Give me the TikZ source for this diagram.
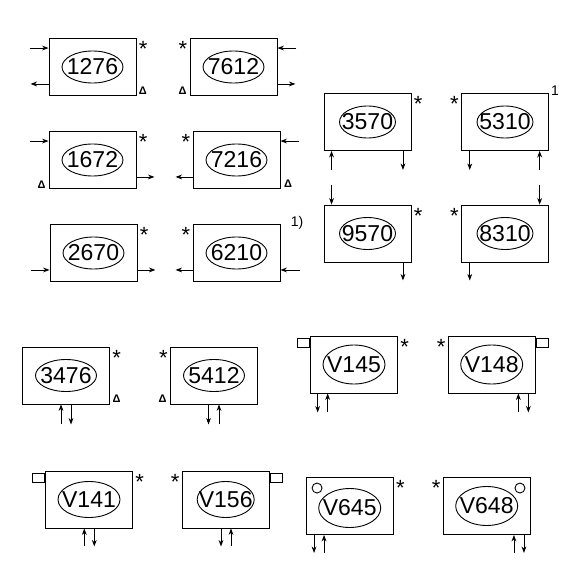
\documentclass[tikz,border=0pt]{standalone}
\usepackage{fontspec}
\setmainfont{Liberation Sans}
\usepackage{tikz}
\usetikzlibrary{arrows.meta,shapes.geometric,positioning}
\tikzstyle{unit} = [rectangle, draw, line width=0.9pt, minimum width=87pt, minimum height=57pt, inner sep=0pt]
\tikzstyle{tag} = [ellipse, draw, line width=0.9pt, minimum width=61pt, minimum height=32pt, inner sep=0pt, font=\fontsize{23}{23}\selectfont]
\tikzstyle{tagv} = [tag, minimum width=62pt, minimum height=39pt]
\tikzstyle{arrow} = [line width=0.8pt, ->, >={Stealth[length=6.5pt,width=4.8pt]}]
\tikzstyle{starr} = [anchor=north west, inner sep=0pt, xshift=2.2pt, yshift=-3.3pt, font=\fontsize{22}{22}\selectfont]
\tikzstyle{starl} = [anchor=north east, inner sep=0pt, xshift=-2.2pt, yshift=-3.3pt, font=\fontsize{22}{22}\selectfont]
\tikzstyle{deltalbl} = [inner sep=0pt, font=\fontsize{11}{11}\selectfont\bfseries]
\tikzstyle{note} = [inner sep=0pt, font=\fontsize{14}{14}\selectfont]
\tikzstyle{stub} = [rectangle, draw, line width=0.9pt, minimum width=12.5pt, minimum height=8.7pt, inner sep=0pt]
\tikzstyle{knob} = [circle, draw, line width=0.9pt, minimum size=10pt, inner sep=0pt]
\newcommand{\tagno}[1]{\makebox[0pt]{#1}}

\begin{document}
\begin{tikzpicture}[x=1pt, y=-1pt]
\useasboundingbox (0,0) rectangle (571,583);

% Row 1
\node[unit] (b1276) at (92.5,67) {};
\node[tag] (e1276) at (b1276) {\tagno{1276}};
\node[starr] (s1276) at (b1276.north east) {*};
\node[deltalbl] (d1276) at ([xshift=6.5pt,yshift=5.3pt]b1276.south east) {Δ};
\coordinate (ia1276) at ([xshift=-19pt,yshift=-10pt]b1276.north west);
\coordinate (oa1276) at ([xshift=-18pt,yshift=12pt]b1276.south west);
\draw[arrow] (ia1276) -- (ia1276 -| b1276.west);
\draw[arrow] (oa1276 -| b1276.west) -- (oa1276);

\node[unit] (b7612) at (233.5,67) {};
\node[tag] (e7612) at (b7612) {\tagno{7612}};
\node[starl] (s7612) at (b7612.north west) {*};
\node[deltalbl] (d7612) at ([xshift=-7pt,yshift=5.3pt]b7612.south west) {Δ};
\coordinate (ia7612) at ([xshift=19pt,yshift=-10pt]b7612.north east);
\coordinate (oa7612) at ([xshift=18pt,yshift=12pt]b7612.south east);
\draw[arrow] (ia7612) -- (ia7612 -| b7612.east);
\draw[arrow] (oa7612 -| b7612.east) -- (oa7612);

% Row 2
\node[unit] (b1672) at (92.5,160) {};
\node[tag] (e1672) at (b1672) {\tagno{1672}};
\node[starr] (s1672) at (b1672.north east) {*};
\node[deltalbl] (d1672) at ([xshift=-7pt,yshift=4.5pt]b1672.south west) {Δ};
\coordinate (ia1672) at ([xshift=-19pt,yshift=-10pt]b1672.north west);
\coordinate (oa1672) at ([xshift=18pt,yshift=12pt]b1672.south east);
\draw[arrow] (ia1672) -- (ia1672 -| b1672.west);
\draw[arrow] (oa1672 -| b1672.east) -- (oa1672);

\node[unit] (b7216) at (236.5,160) {};
\node[tag] (e7216) at (b7216) {\tagno{7216}};
\node[starl] (s7216) at (b7216.north west) {*};
\node[deltalbl] (d7216) at ([xshift=7.5pt,yshift=5.5pt]b7216.south east) {Δ};
\coordinate (ia7216) at ([xshift=19pt,yshift=-10pt]b7216.north east);
\coordinate (oa7216) at ([xshift=-17pt,yshift=12pt]b7216.south west);
\draw[arrow] (ia7216) -- (ia7216 -| b7216.east);
\draw[arrow] (oa7216 -| b7216.west) -- (oa7216);

% Row 3
\node[unit] (b2670) at (93.5,253) {};
\node[tag] (e2670) at (b2670) {\tagno{2670}};
\node[starr] (s2670) at (b2670.north east) {*};
\coordinate (ia2670) at ([xshift=-19pt,yshift=12pt]b2670.south west);
\coordinate (oa2670) at ([xshift=18pt,yshift=12pt]b2670.south east);
\draw[arrow] (ia2670) -- (ia2670 -| b2670.west);
\draw[arrow] (oa2670 -| b2670.east) -- (oa2670);

\node[unit] (b6210) at (236.5,253) {};
\node[tag] (e6210) at (b6210) {\tagno{6210}};
\node[starl] (s6210) at (b6210.north west) {*};
\node[note] (n6210) at ([xshift=16.7pt,yshift=1.3pt]b6210.north east) {1)};
\coordinate (oa6210) at ([xshift=-17pt,yshift=12pt]b6210.south west);
\coordinate (ia6210) at ([xshift=20pt,yshift=12pt]b6210.south east);
\draw[arrow] (oa6210 -| b6210.west) -- (oa6210);
\draw[arrow] (ia6210) -- (ia6210 -| b6210.east);

% Right block
\node[unit] (b3570) at (367.5,122) {};
\node[tag, minimum width=56pt] (e3570) at (b3570) {\tagno{3570}};
\node[starr] (s3570) at (b3570.north east) {*};
\coordinate (ia3570) at ([xshift=8pt,yshift=-19pt]b3570.south west);
\coordinate (oa3570) at ([xshift=-8.5pt,yshift=-19pt]b3570.south east);
\draw[arrow] (ia3570) -- (ia3570 |- b3570.south);
\draw[arrow] (oa3570 |- b3570.south) -- (oa3570);

\node[unit] (b5310) at (505,122) {};
\node[tag, minimum width=56pt] (e5310) at (b5310) {\tagno{5310}};
\node[starl] (s5310) at (b5310.north west) {*};
\node[note] (n5310) at (555,91) {1};
\coordinate (oa5310) at ([xshift=8.7pt,yshift=-19pt]b5310.south west);
\coordinate (ia5310) at ([xshift=-9.3pt,yshift=-19pt]b5310.south east);
\draw[arrow] (oa5310 |- b5310.south) -- (oa5310);
\draw[arrow] (ia5310) -- (ia5310 |- b5310.south);

\node[unit] (b9570) at (367.5,233.5) {};
\node[tag, minimum width=56pt] (e9570) at (b9570) {\tagno{9570}};
\node[starr] (s9570) at (b9570.north east) {*};
\coordinate (ia9570) at ([xshift=8pt,yshift=20pt]b9570.north west);
\coordinate (oa9570) at ([xshift=-8.5pt,yshift=-18pt]b9570.south east);
\draw[arrow] (ia9570) -- (ia9570 |- b9570.north);
\draw[arrow] (oa9570 |- b9570.south) -- (oa9570);

\node[unit] (b8310) at (505,233.5) {};
\node[tag, minimum width=56pt] (e8310) at (b8310) {\tagno{8310}};
\node[starl] (s8310) at (b8310.north west) {*};
\coordinate (ia8310) at ([xshift=-9.3pt,yshift=20pt]b8310.north east);
\coordinate (oa8310) at ([xshift=8.7pt,yshift=-18pt]b8310.south west);
\draw[arrow] (ia8310) -- (ia8310 |- b8310.north);
\draw[arrow] (oa8310 |- b8310.south) -- (oa8310);

% Row 4
\node[unit] (b3476) at (66,375.5) {};
\node[tag] (e3476) at (b3476) {\tagno{3476}};
\node[starr] (s3476) at (b3476.north east) {*};
\node[deltalbl] (d3476) at ([xshift=6.7pt,yshift=5.7pt]b3476.south east) {Δ};
\coordinate (ia3476) at ([xshift=-5pt,yshift=-20pt]b3476.south);
\coordinate (oa3476) at ([xshift=5pt,yshift=-20pt]b3476.south);
\draw[arrow] (ia3476) -- (ia3476 |- b3476.south);
\draw[arrow] (oa3476 |- b3476.south) -- (oa3476);

\node[unit] (b5412) at (214,375.5) {};
\node[tag] (e5412) at (b5412) {\tagno{5412}};
\node[starl] (s5412) at (b5412.north west) {*};
\node[deltalbl] (d5412) at ([xshift=-7.4pt,yshift=5.7pt]b5412.south west) {Δ};
\coordinate (oa5412) at ([xshift=-5.5pt,yshift=-20pt]b5412.south);
\coordinate (ia5412) at ([xshift=5pt,yshift=-20pt]b5412.south);
\draw[arrow] (oa5412 |- b5412.south) -- (oa5412);
\draw[arrow] (ia5412) -- (ia5412 |- b5412.south);

\node[unit] (bV145) at (354,364.5) {};
\node[tagv] (eV145) at (bV145) {\tagno{V145}};
\node[starr] (sV145) at (bV145.north east) {*};
\node[stub, anchor=east] (kV145) at ([yshift=-7.7pt]bV145.north west) {};
\coordinate (oaV145) at ([xshift=7.6pt,yshift=-19pt]bV145.south west);
\coordinate (iaV145) at ([xshift=17.6pt,yshift=-19pt]bV145.south west);
\draw[arrow] (oaV145 |- bV145.south) -- (oaV145);
\draw[arrow] (iaV145) -- (iaV145 |- bV145.south);

\node[unit] (bV148) at (491.7,364.5) {};
\node[tagv] (eV148) at (bV148) {\tagno{V148}};
\node[starl] (sV148) at (bV148.north west) {*};
\node[stub, anchor=west] (kV148) at ([yshift=-7.7pt]bV148.north east) {};
\coordinate (iaV148) at ([xshift=-17.3pt,yshift=-19pt]bV148.south east);
\coordinate (oaV148) at ([xshift=-7.3pt,yshift=-19pt]bV148.south east);
\draw[arrow] (iaV148) -- (iaV148 |- bV148.south);
\draw[arrow] (oaV148 |- bV148.south) -- (oaV148);

% Row 5
\node[unit] (bV141) at (89,499.5) {};
\node[tagv, minimum height=36pt] (eV141) at (bV141) {\tagno{V141}};
\node[starr] (sV141) at (bV141.north east) {*};
\node[stub, anchor=east] (kV141) at ([yshift=-7.7pt]bV141.north west) {};
\coordinate (iaV141) at ([xshift=-4.7pt,yshift=-18pt]bV141.south);
\coordinate (oaV141) at ([xshift=5.3pt,yshift=-18pt]bV141.south);
\draw[arrow] (iaV141) -- (iaV141 |- bV141.south);
\draw[arrow] (oaV141 |- bV141.south) -- (oaV141);

\node[unit] (bV156) at (225.7,499.5) {};
\node[tagv, minimum width=57pt, minimum height=36pt] (eV156) at (bV156) {\tagno{V156}};
\node[starl] (sV156) at (bV156.north west) {*};
\node[stub, anchor=west] (kV156) at ([yshift=-7.7pt]bV156.north east) {};
\coordinate (oaV156) at ([xshift=-4.7pt,yshift=-18pt]bV156.south);
\coordinate (iaV156) at ([xshift=5.3pt,yshift=-18pt]bV156.south);
\draw[arrow] (oaV156 |- bV156.south) -- (oaV156);
\draw[arrow] (iaV156) -- (iaV156 |- bV156.south);

\node[unit] (bV645) at (349.7,506) {};
\node[tagv] (eV645) at ([yshift=-2pt]bV645.center) {\tagno{V645}};
\node[starr] (sV645) at (bV645.north east) {*};
\node[knob] (cV645) at ([xshift=11.3pt,yshift=-11pt]bV645.north west) {};
\coordinate (oaV645) at ([xshift=8.3pt,yshift=-18pt]bV645.south west);
\coordinate (iaV645) at ([xshift=18.3pt,yshift=-18pt]bV645.south west);
\draw[arrow] (oaV645 |- bV645.south) -- (oaV645);
\draw[arrow] (iaV645) -- (iaV645 |- bV645.south);

\node[unit] (bV648) at (486.7,506) {};
\node[tagv] (eV648) at (bV648) {\tagno{V648}};
\node[starl] (sV648) at (bV648.north west) {*};
\node[knob] (cV648) at ([xshift=-10.7pt,yshift=-11pt]bV648.north east) {};
\coordinate (iaV648) at ([xshift=-16.7pt,yshift=-18pt]bV648.south east);
\coordinate (oaV648) at ([xshift=-6.7pt,yshift=-18pt]bV648.south east);
\draw[arrow] (iaV648) -- (iaV648 |- bV648.south);
\draw[arrow] (oaV648 |- bV648.south) -- (oaV648);
\end{tikzpicture}
\end{document}
